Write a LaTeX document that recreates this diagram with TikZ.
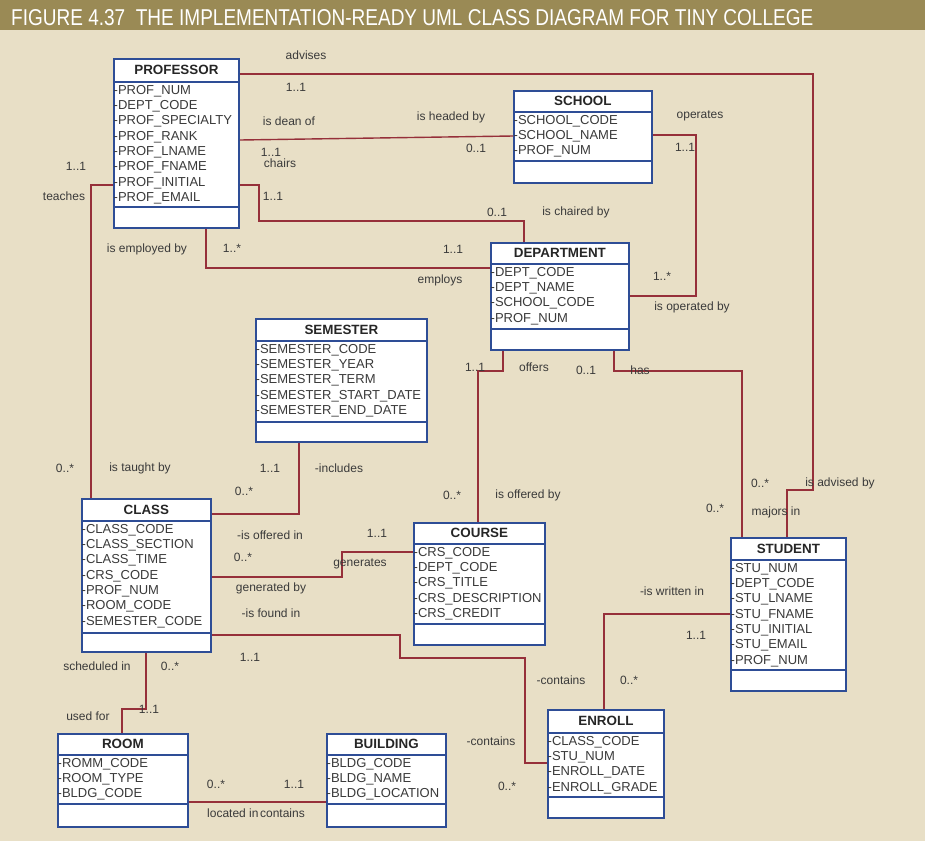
\documentclass[tikz,border=0pt]{standalone}
\usepackage{fontspec}
\setmainfont{Liberation Sans}
\usetikzlibrary{calc}

\definecolor{paper}{HTML}{E8DFC6}
\definecolor{bar}{HTML}{9A8A55}
\definecolor{linkred}{HTML}{96303A}
\definecolor{boxblue}{HTML}{2E4D96}
\definecolor{ink}{HTML}{3A3A3A}

\tikzset{
  classbody/.style={draw=boxblue, line width=1.8pt, fill=white, inner sep=0pt, anchor=north west},
  classrule/.style={draw=boxblue, line width=1.8pt},
  classname/.style={font=\fontsize{13.4}{15}\selectfont\bfseries, text=black!85, inner sep=0pt},
  attrlist/.style={anchor=north west, align=left, inner xsep=0.5pt, inner ysep=3pt,
                   font=\fontsize{13}{15.3}\selectfont, text=ink},
  link/.style={draw=linkred, line width=1.4pt},
  lbl/.style={font=\fontsize{12}{14}\selectfont, text=ink, inner sep=0pt},
}

% name, left, top, right, header rule, attribute rule, bottom, title, attributes
\newcommand{\classbox}[9]{%
  \node[classbody, minimum width=#4pt-#2pt, minimum height=#7pt-#3pt] (#1) at (#2,#3) {};
  \draw[classrule] (#1.west |- 0,#5) -- (#1.east |- 0,#5);
  \draw[classrule] (#1.west |- 0,#6) -- (#1.east |- 0,#6);
  \node[classname] (#1-name) at ($(#1.north)!.5!(#1.north |- 0,#5)$) {#8};
  \node[attrlist] (#1-attr) at (#1.west |- 0,#5) {#9};
}

\begin{document}
\begin{tikzpicture}[x=1pt, y=-1pt]
  % page
  \fill[paper] (0,0) rectangle (925,841);
  \useasboundingbox (0,0) rectangle (925,841);
  \fill[bar] (0,0) rectangle (925,29.5);
  \node[anchor=west, inner sep=0pt, text=white] (title) at (11,18)
    {\resizebox{802pt}{16pt}{FIGURE 4.37\ \ THE IMPLEMENTATION-READY UML CLASS DIAGRAM FOR TINY COLLEGE}};

  % classes
  \classbox{prof}{113}{58}{238}{82}{207}{227}{PROFESSOR}
    {-PROF\_NUM\\-DEPT\_CODE\\-PROF\_SPECIALTY\\-PROF\_RANK\\-PROF\_LNAME\\-PROF\_FNAME\\-PROF\_INITIAL\\-PROF\_EMAIL}
  \classbox{school}{513}{90}{651}{112}{161}{182}{SCHOOL}
    {-SCHOOL\_CODE\\-SCHOOL\_NAME\\-PROF\_NUM}
  \classbox{dept}{490}{242}{628}{264}{329}{349}{DEPARTMENT}
    {-DEPT\_CODE\\-DEPT\_NAME\\-SCHOOL\_CODE\\-PROF\_NUM}
  \classbox{sem}{255}{318}{426}{341}{422}{441}{SEMESTER}
    {-SEMESTER\_CODE\\-SEMESTER\_YEAR\\-SEMESTER\_TERM\\-SEMESTER\_START\_DATE\\-SEMESTER\_END\_DATE}
  \classbox{class}{81}{498}{210}{521}{633}{651}{CLASS}
    {-CLASS\_CODE\\-CLASS\_SECTION\\-CLASS\_TIME\\-CRS\_CODE\\-PROF\_NUM\\-ROOM\_CODE\\-SEMESTER\_CODE}
  \classbox{course}{413}{522}{544}{544}{624}{644}{COURSE}
    {-CRS\_CODE\\-DEPT\_CODE\\-CRS\_TITLE\\-CRS\_DESCRIPTION\\-CRS\_CREDIT}
  \classbox{student}{730}{537}{845}{560}{670}{690}{STUDENT}
    {-STU\_NUM\\-DEPT\_CODE\\-STU\_LNAME\\-STU\_FNAME\\-STU\_INITIAL\\-STU\_EMAIL\\-PROF\_NUM}
  \classbox{room}{57}{733}{187}{755}{804}{826}{ROOM}
    {-ROMM\_CODE\\-ROOM\_TYPE\\-BLDG\_CODE}
  \classbox{bldg}{326}{733}{445}{755}{804}{826}{BUILDING}
    {-BLDG\_CODE\\-BLDG\_NAME\\-BLDG\_LOCATION}
  \classbox{enroll}{547}{709}{663}{733}{797}{817}{ENROLL}
    {-CLASS\_CODE\\-STU\_NUM\\-ENROLL\_DATE\\-ENROLL\_GRADE}

  % associations
  \draw[link] (prof.east |- 0,74) -| (813,490) -| (student.north -| 787,0);
  \draw[link] (prof.east |- 0,140) -- (school.west |- 0,136);
  \draw[link] (prof.east |- 0,185) -| (259,221) -| (dept.north -| 524,0);
  \draw[link] (prof.south -| 206,0) |- (dept.west |- 0,268);
  \draw[link] (school.east |- 0,135) -| (696,296) -- (dept.east |- 0,296);
  \draw[link] (dept.south -| 503,0) |- (478,371) -- (course.north -| 478,0);
  \draw[link] (dept.south -| 614,0) |- (742,371) -- (student.north -| 742,0);
  \draw[link] (sem.south -| 299,0) |- (class.east |- 0,514);
  \draw[link] (prof.west |- 0,185) -| (class.north -| 91,0);
  \draw[link] (class.east |- 0,577) -| (342,552) -- (course.west |- 0,552);
  \draw[link] (class.east |- 0,635) -| (400,658) -| (525,763) -- (enroll.west |- 0,763);
  \draw[link] (student.west |- 0,614) -| (enroll.north -| 604,0);
  \draw[link, line width=2.4pt] (class.south -| 146,0) |- (122,709) -- (room.north -| 122,0);
  \draw[link] (room.east |- 0,802) -- (bldg.west |- 0,802);

  % labels
  \node[lbl] (advises) at (306,55) {advises};
  \node[lbl] (advises-m) at (296,87) {1..1};
  \node[lbl] (deanof) at (289,121) {is dean of};
  \node[lbl] (headedby) at (451,117) {is headed by};
  \node[lbl] (headedby-m) at (476,148) {0..1};
  \node[lbl] (deanof-m) at (271,152) {1..1};
  \node[lbl] (chairs) at (280,163) {chairs};
  \node[lbl] (teaches-m) at (76,166) {1..1};
  \node[lbl] (teaches) at (64,196) {teaches};
  \node[lbl] (chairs-m) at (273,196) {1..1};
  \node[lbl] (chairedby-m) at (497,212) {0..1};
  \node[lbl] (chairedby) at (576,212) {is chaired by};
  \node[lbl] (operates) at (700,116) {operates};
  \node[lbl] (operates-m) at (685,147) {1..1};
  \node[lbl] (employedby) at (147,249) {is employed by};
  \node[lbl] (employedby-m) at (232,248) {1..*};
  \node[lbl] (employs-m) at (453,249) {1..1};
  \node[lbl] (employs) at (440,280) {employs};
  \node[lbl] (operatedby-m) at (662,276) {1..*};
  \node[lbl] (operatedby) at (692,307) {is operated by};
  \node[lbl] (offers-m) at (475,367) {1..1};
  \node[lbl] (offers) at (534,367) {offers};
  \node[lbl] (has-m) at (586,370) {0..1};
  \node[lbl] (has) at (640,370) {has};
  \node[lbl] (includes-m) at (270,468) {1..1};
  \node[lbl] (includes) at (339,468) {-includes};
  \node[lbl] (taughtby-m) at (65,468) {0..*};
  \node[lbl] (taughtby) at (140,468) {is taught by};
  \node[lbl] (semclass-m) at (244,491) {0..*};
  \node[lbl] (offeredby-m) at (452,495) {0..*};
  \node[lbl] (offeredby) at (528,495) {is offered by};
  \node[lbl] (advisedby-m) at (760,483) {0..*};
  \node[lbl] (advisedby) at (840,483) {is advised by};
  \node[lbl] (majorsin-m) at (715,508) {0..*};
  \node[lbl] (majorsin) at (776,512) {majors in};
  \node[lbl] (offeredin) at (270,535) {-is offered in};
  \node[lbl] (generates-m) at (377,533) {1..1};
  \node[lbl] (offeredin-m) at (243,557) {0..*};
  \node[lbl] (generates) at (360,564) {generates};
  \node[lbl] (generatedby) at (271,588) {generated by};
  \node[lbl] (foundin) at (271,613) {-is found in};
  \node[lbl] (writtenin) at (672,591) {-is written in};
  \node[lbl] (writtenin-m) at (696,635) {1..1};
  \node[lbl] (foundin-m) at (250,657) {1..1};
  \node[lbl] (scheduled) at (97,666) {scheduled in};
  \node[lbl] (scheduled-m) at (170,666) {0..*};
  \node[lbl] (contains-a) at (561,680) {-contains};
  \node[lbl] (contains-a-m) at (629,680) {0..*};
  \node[lbl] (usedfor) at (88,716) {used for};
  \node[lbl] (usedfor-m) at (149,709) {1..1};
  \node[lbl] (contains-b) at (491,741) {-contains};
  \node[lbl] (contains-b-m) at (507,786) {0..*};
  \node[lbl] (locatedin-m) at (216,784) {0..*};
  \node[lbl] (bldgcontains-m) at (294,784) {1..1};
  \node[lbl, anchor=west] (locatedin) at (207,813) {located in};
  \node[lbl, anchor=east] (bldgcontains) at (305,813) {contains};
\end{tikzpicture}
\end{document}
